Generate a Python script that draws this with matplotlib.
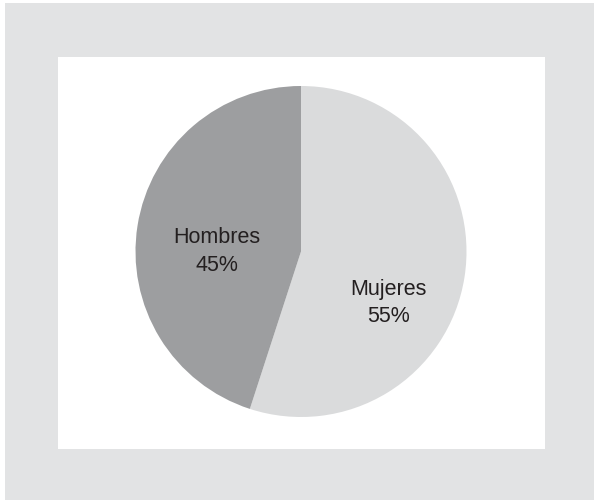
import matplotlib
matplotlib.use("Agg")
import matplotlib.pyplot as plt
from matplotlib.patches import Rectangle

labels = ["Mujeres", "Hombres"]
values = [55, 45]
colors = ["#dadbdc", "#9d9ea0"]

W, H = 594, 500
fig = plt.figure(figsize=(W / 100, H / 100), dpi=100)
fig.patch.set_facecolor("white")
# outer gray frame
fig.patches.append(Rectangle((5 / W, 0), (W - 5) / W, (H - 3) / H, transform=fig.transFigure,
                             facecolor="#e2e3e4", edgecolor="none", zorder=0))
# inner white panel
fig.patches.append(Rectangle((58 / W, (H - 449) / H), (545 - 58) / W, (449 - 57) / H,
                             transform=fig.transFigure, facecolor="white", edgecolor="none", zorder=1))

cx, cy, r = 301, 251.5, 165.5
ax = fig.add_axes([(cx - r) / W, (H - cy - r) / H, 2 * r / W, 2 * r / H])
ax.set_zorder(2)
ax.patch.set_alpha(0)
wedges, _ = ax.pie(values, colors=colors, startangle=90, counterclock=False,
                   wedgeprops=dict(linewidth=0))
ax.set_xlim(-1, 1)
ax.set_ylim(-1, 1)
ax.set_aspect("equal")

pos = {"Mujeres": (0.53, -0.31), "Hombres": (-0.51, 0.0)}
for lab, v in zip(labels, values):
    x, y = pos[lab]
    ax.text(x, y, f"{lab}\n{v}%", ha="center", va="center", fontsize=15.5,
            family="Liberation Sans", color="#231f20", linespacing=1.38)

fig.savefig("out.png", dpi=100)
